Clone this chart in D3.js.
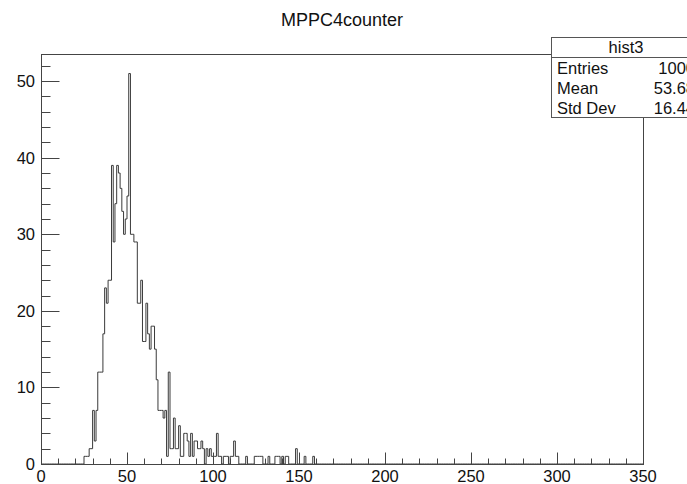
<!DOCTYPE html>
<html>
<head>
  <meta charset="utf-8">
  <style>
    body { margin: 0; background: #fff; }
    text { font-family: "Liberation Sans", Arial, sans-serif; fill: #111; }
    .frame { fill: none; stroke: #444; stroke-width: 1px; }
    .hist { fill: none; stroke: #3a3a3a; stroke-width: 1px; }
  </style>
</head>
<body>
  <div id="chart"></div>
  <script src="https://cdn.jsdelivr.net/npm/d3@7"></script>
  <script>
    var title = 'MPPC4counter';
    var histName = 'hist3';
    var statLabels = ['Entries', 'Mean', 'Std Dev'];
    var statValues = ['1000', '53.68', '16.44'];

    // 1 unit wide bins over 0..350, only the filled part is listed
    var xMin = 0, xMax = 350, nBins = 350;
    var firstBin = 25;
    var counts = [
      1, 1, 1, 2, 2, 7, 3, 7, 12, 12,           // 25-34
      12, 17, 23, 21, 24, 24, 39, 29, 34, 39,   // 35-44
      38, 36, 33, 30, 32, 35, 51, 30, 30, 29,   // 45-54
      29, 21, 21, 24, 16, 16, 21, 17, 15, 18,   // 55-64
      18, 15, 11, 7, 7, 7, 6, 7, 1, 12,         // 65-74
      2, 2, 6, 2, 2, 5, 1, 1, 4, 4,             // 75-84
      3, 1, 4, 1, 3, 3, 2, 2, 3, 2,             // 85-94
      0, 2, 1, 2, 1, 1, 1, 4, 1, 1,             // 95-104
      0, 1, 1, 1, 0, 1, 1, 3, 1, 1,             // 105-114
      0, 0, 0, 0, 1, 0, 0, 0, 0, 1,             // 115-124
      1, 1, 1, 1, 0, 0, 0, 1, 0, 0,             // 125-134
      0, 1, 1, 1, 0, 1, 0, 1, 1, 0,             // 135-144
      0, 0, 0, 2, 0, 0, 0, 0, 1, 0,             // 145-154
      0, 0, 0, 1                                // 155-158
    ];
    var xTicks = [0, 50, 100, 150, 200, 250, 300, 350];
    var yTicks = [0, 10, 20, 30, 40, 50];

    var width = 687, height = 484;
    // frame edges (window.top is read-only, so no "top" here)
    var fLeft = 41, fRight = 643, fTop = 54, fBottom = 464;

    var svg = d3.select('#chart').append('svg')
      .attr('width', width)
      .attr('height', height);

    var yMax = d3.max(counts) * 1.05;
    var x = d3.scaleLinear().domain([xMin, xMax]).range([fLeft, fRight]);
    var y = d3.scaleLinear().domain([0, yMax]).range([fBottom, fTop]);

    // full bin contents
    var bins = d3.range(nBins).map(function (i) {
      var j = i - firstBin;
      return { lo: i, c: (j >= 0 && j < counts.length) ? counts[j] : 0 };
    });
    var pts = bins.map(function (b) { return [b.lo, b.c]; });
    pts.push([xMax, bins[nBins - 1].c]);

    var line = d3.line()
      .x(function (d) { return x(d[0]); })
      .y(function (d) { return y(d[1]); })
      .curve(d3.curveStepAfter);

    svg.append('path')
      .datum(pts)
      .attr('class', 'hist')
      .attr('d', line);

    // frame
    svg.append('rect')
      .attr('class', 'frame')
      .attr('x', fLeft + 0.5)
      .attr('y', fTop + 0.5)
      .attr('width', fRight - fLeft)
      .attr('height', fBottom - fTop);

    // x axis: ticks point inward
    var xMinor = d3.range(xMin, xMax + 0.1, 10);
    svg.append('g').selectAll('line')
      .data(xMinor).enter()
      .append('line')
      .attr('x1', function (d) { return Math.round(x(d)) + 0.5; })
      .attr('x2', function (d) { return Math.round(x(d)) + 0.5; })
      .attr('y1', fBottom + 0.5)
      .attr('y2', function (d) { return fBottom + 0.5 - (d % 50 === 0 ? 12 : 6); })
      .attr('stroke', '#444');
    svg.append('g').selectAll('text')
      .data(xTicks).enter()
      .append('text')
      .attr('x', function (d) { return x(d); })
      .attr('y', 482)
      .attr('text-anchor', 'middle')
      .style('font-size', '16.5px')
      .text(function (d) { return d; });

    // y axis
    var yMinor = d3.range(0, yMax, 2);
    svg.append('g').selectAll('line')
      .data(yMinor).enter()
      .append('line')
      .attr('x1', fLeft + 0.5)
      .attr('x2', function (d) { return fLeft + 0.5 + (d % 10 === 0 ? 18 : 9); })
      .attr('y1', function (d) { return Math.round(y(d)) + 0.5; })
      .attr('y2', function (d) { return Math.round(y(d)) + 0.5; })
      .attr('stroke', '#444');
    svg.append('g').selectAll('text')
      .data(yTicks).enter()
      .append('text')
      .attr('x', 35)
      .attr('y', function (d) { return y(d) + 6; })
      .attr('text-anchor', 'end')
      .style('font-size', '16.5px')
      .text(function (d) { return d; });

    // title
    svg.append('text')
      .attr('x', 342)
      .attr('y', 26)
      .attr('text-anchor', 'middle')
      .style('font-size', '18px')
      .text(title);

    // stats box, runs off the right edge like the original
    var bx = 551, by = 37, bw = 150, rowH = 20;
    svg.append('rect')
      .attr('x', bx + 0.5).attr('y', by + 0.5)
      .attr('width', bw).attr('height', 80)
      .attr('fill', '#fff').attr('stroke', '#555');
    svg.append('line')
      .attr('x1', bx + 0.5).attr('x2', bx + bw)
      .attr('y1', by + 20.5).attr('y2', by + 20.5)
      .attr('stroke', '#555');
    svg.append('text')
      .attr('x', bx + bw / 2)
      .attr('y', by + 16)
      .attr('text-anchor', 'middle')
      .style('font-size', '16.5px')
      .text(histName);
    statLabels.forEach(function (s, i) {
      svg.append('text')
        .attr('x', bx + 6)
        .attr('y', by + 37 + i * rowH)
        .style('font-size', '16.5px')
        .text(s);
      svg.append('text')
        .attr('x', bx + 144)
        .attr('y', by + 37 + i * rowH)
        .attr('text-anchor', 'end')
        .style('font-size', '16.5px')
        .text(statValues[i]);
    });
  </script>
</body>
</html>
